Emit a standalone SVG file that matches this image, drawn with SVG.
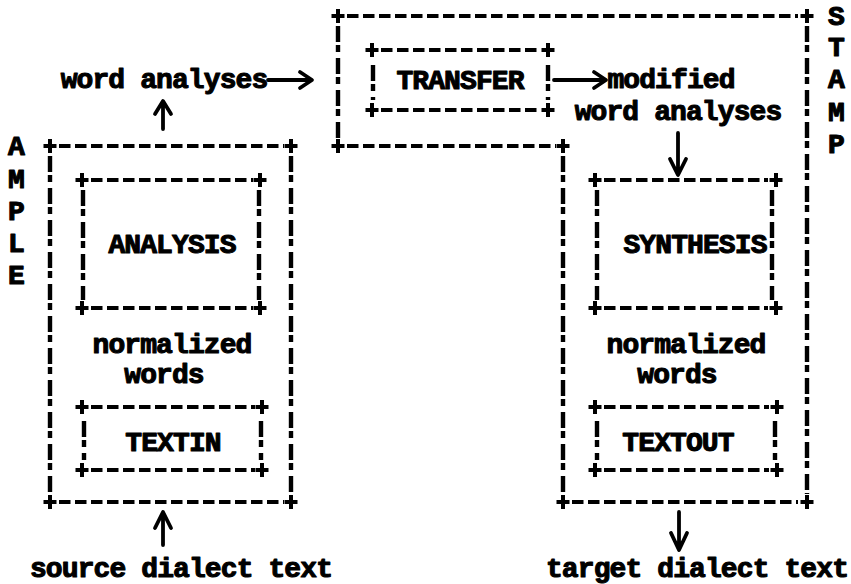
<svg xmlns="http://www.w3.org/2000/svg" width="851" height="584" viewBox="0 0 851 584">
  <defs>
    <style>
      .h { fill: none; stroke: #000; stroke-width: 3.8; stroke-dasharray: 11.5 4.5; }
      .v { fill: none; stroke: #000; stroke-width: 4.4; stroke-dasharray: 16 3 7 6; }
      .arrow { fill: none; stroke: #000; stroke-width: 3.8; stroke-linecap: round; stroke-linejoin: round; }
      .t { font-family: "Liberation Mono", "Courier New", monospace; font-weight: bold; font-size: 28px;
           letter-spacing: -0.9px; fill: #000; stroke: #000; stroke-width: 1.1; stroke-linejoin: round;
           text-anchor: middle; }
    </style>
    <!-- corner mark of the character-cell boxes -->
    <path id="plus" d="M-6.5,0 H6.5 M0,-7 V7" fill="none" stroke="#000" stroke-width="4"/>
  </defs>

  <rect x="0" y="0" width="851" height="584" fill="#fff"/>

  <!-- AMPLE: outer box holding ANALYSIS and TEXTIN -->
  <g id="ample">
    <path class="h" d="M59,146 H284 M59,502 H284"/>
    <path class="v" d="M50,156 V494 M291,156 V494"/>
    <use href="#plus" x="50" y="146"/>
    <use href="#plus" x="291" y="146"/>
    <use href="#plus" x="50" y="502"/>
    <use href="#plus" x="291" y="502"/>
    <text class="t" x="16" y="155">A</text>
    <text class="t" x="16" y="188">M</text>
    <text class="t" x="16" y="220">P</text>
    <text class="t" x="16" y="252">L</text>
    <text class="t" x="16" y="284">E</text>
    <text class="t" x="172" y="353">normalized</text>
    <text class="t" x="164" y="383">words</text>
  </g>

  <g id="analysis">
    <path class="h" d="M91,180 H253 M91,308 H253"/>
    <path class="v" d="M83,190 V300 M259,190 V300"/>
    <use href="#plus" x="82" y="180"/>
    <use href="#plus" x="260" y="180"/>
    <use href="#plus" x="82" y="308"/>
    <use href="#plus" x="260" y="308"/>
    <text class="t" x="172" y="253">ANALYSIS</text>
  </g>

  <g id="textin">
    <path class="h" d="M91,407 H255 M91,470 H255"/>
    <path class="v" d="M84,421 V460 M261,421 V460"/>
    <use href="#plus" x="82" y="407"/>
    <use href="#plus" x="262" y="407"/>
    <use href="#plus" x="82" y="470"/>
    <use href="#plus" x="262" y="470"/>
    <text class="t" x="173" y="451">TEXTIN</text>
  </g>

  <!-- STAMP: outer outline holding TRANSFER, SYNTHESIS and TEXTOUT -->
  <g id="stamp">
    <path class="h" d="M347,16 H798 M347,146 H556 M572,502 H798"/>
    <path class="v" d="M338,26 V138 M563,156 V494 M807,26 V494"/>
    <use href="#plus" x="338" y="16"/>
    <use href="#plus" x="807" y="16"/>
    <use href="#plus" x="338" y="146"/>
    <use href="#plus" x="563" y="146"/>
    <use href="#plus" x="563" y="502"/>
    <use href="#plus" x="807" y="502"/>
    <text class="t" x="836" y="25">S</text>
    <text class="t" x="836" y="56">T</text>
    <text class="t" x="836" y="88">A</text>
    <text class="t" x="836" y="121">M</text>
    <text class="t" x="836" y="153">P</text>
    <text class="t" x="686" y="353">normalized</text>
    <text class="t" x="677" y="383">words</text>
  </g>

  <g id="transfer">
    <path class="h" d="M381,50 H541 M381,110 H541"/>
    <path class="v" d="M373,65 V100 M548,65 V100"/>
    <use href="#plus" x="372" y="50"/>
    <use href="#plus" x="548" y="50"/>
    <use href="#plus" x="372" y="110"/>
    <use href="#plus" x="548" y="110"/>
    <text class="t" x="460" y="89">TRANSFER</text>
  </g>

  <g id="synthesis">
    <path class="h" d="M604,180 H768 M604,308 H768"/>
    <path class="v" d="M597,190 V300 M772,190 V300"/>
    <use href="#plus" x="595" y="180"/>
    <use href="#plus" x="776" y="180"/>
    <use href="#plus" x="595" y="308"/>
    <use href="#plus" x="776" y="308"/>
    <text class="t" x="695" y="253">SYNTHESIS</text>
  </g>

  <g id="textout">
    <path class="h" d="M604,407 H769 M604,470 H769"/>
    <path class="v" d="M597,421 V460 M775,421 V460"/>
    <use href="#plus" x="595" y="407"/>
    <use href="#plus" x="777" y="407"/>
    <use href="#plus" x="595" y="470"/>
    <use href="#plus" x="777" y="470"/>
    <text class="t" x="678" y="451">TEXTOUT</text>
  </g>

  <!-- data labels -->
  <g id="labels">
    <text class="t" x="164" y="88">word analyses</text>
    <text class="t" x="671" y="88">modified</text>
    <text class="t" x="678" y="120">word analyses</text>
    <text class="t" x="181" y="577">source dialect text</text>
    <text class="t" x="697" y="577">target dialect text</text>
  </g>

  <!-- connectors -->
  <g id="connectors">
    <!-- ANALYSIS output up to word analyses -->
    <path class="arrow" d="M163,129 V102 M155,114 L163,101 L171,114"/>
    <!-- word analyses into TRANSFER -->
    <path class="arrow" d="M268,80 H310 M300,72 L312,80 L300,88"/>
    <!-- TRANSFER out to modified word analyses -->
    <path class="arrow" d="M554,80 H603 M594,72 L606,80 L594,88"/>
    <!-- modified word analyses down into SYNTHESIS -->
    <path class="arrow" d="M678,133 V174 M670,159 L678,175 L686,159"/>
    <!-- source dialect text up into AMPLE -->
    <path class="arrow" d="M163,545 V513 M155,528 L163,512 L171,528"/>
    <!-- STAMP down to target dialect text -->
    <path class="arrow" d="M679,512 V549 M671,533 L679,550 L687,533"/>
  </g>
</svg>
